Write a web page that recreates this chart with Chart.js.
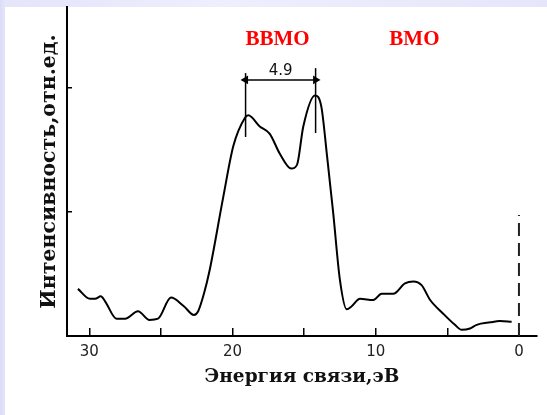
<!DOCTYPE html>
<html lang="ru">
<head>
<meta charset="UTF-8">
<title>Энергия связи</title>
<script src="https://cdn.jsdelivr.net/npm/chart.js"></script>
<style>
    body {
        margin: 0;
        width: 547px;
        height: 415px;
        overflow: hidden;
        background: linear-gradient(90deg, #dcdcf8 0px, #e4e4fb 5px, #eeeefd 40%, #e6e6fb 100%);
        position: relative;
    }
    #panel {
        position: absolute;
        left: 5px;
        top: 7px;
        right: 0;
        bottom: 0;
        background: #fff;
    }
    canvas {
        position: absolute;
        left: 0;
        top: 0;
    }
</style>
</head>
<body>
<div id="panel"></div>
<canvas id="grafico" width="547" height="415"></canvas>

<script>
    // спектр: энергия связи (эВ) и интенсивность (отн. ед.)
    const energy = [30.8, 29.96, 29.6, 29.2, 28.9, 28.1, 27.5, 26.6, 25.8, 25.2, 24.3, 23.4, 22.7, 22.4, 22.0, 21.6,
        20.65, 19.95, 19.13, 18.9, 18.1, 17.4, 16.7, 15.9, 15.5, 15.06, 14.25, 13.8, 13.4, 12.97, 12.5,
        12.03, 11.68, 11.1, 10.17, 9.59, 8.78, 7.96, 7.38, 6.8, 6.2, 5.29, 4.47, 4.0, 3.42, 2.95, 2.0, 1.33, 0.51];
    const intensity = [0.38, 0.30, 0.30, 0.32, 0.28, 0.14, 0.14, 0.20, 0.13, 0.14, 0.31, 0.24, 0.17, 0.20, 0.34, 0.53,
        1.12, 1.53, 1.76, 1.78, 1.69, 1.63, 1.47, 1.35, 1.38, 1.69, 1.94, 1.85, 1.45, 0.99, 0.45,
        0.215, 0.24, 0.30, 0.29, 0.34, 0.34, 0.425, 0.44, 0.41, 0.29, 0.18, 0.09, 0.05, 0.06, 0.09, 0.11, 0.12, 0.115];

    const xTickValues = [30, 25, 20, 15, 10, 5, 0];
    const xTickLabels = ['30', '', '20', '', '10', '', '0'];
    const yTickValues = [1, 2];

    // пунктир на уровне Ферми
    const fermiX = [0, 0];
    const fermiY = [0, 0.975];

    // расщепление 4.9 эВ
    const splitX = [19.09, 14.2];
    const splitLow = [1.605, 1.637];
    const splitHigh = [2.12, 2.16];
    const splitArrowY = 2.065;
    const splitText = '4.9';
    const splitTextY = 2.14;

    const bandNames = ['ВВМО', 'ВМО'];
    const bandX = [16.86, 7.3];
    const bandY = 2.39;

    const segment = (xs, ys) => xs.map((x, i) => ({ x: x, y: ys[i] }));

    const textPlugin = {
        id: 'textos',
        afterDatasetsDraw(chart) {
            const { ctx, scales: { x, y } } = chart;
            ctx.save();
            ctx.textAlign = 'center';
            ctx.textBaseline = 'middle';
            ctx.fillStyle = '#111';
            ctx.font = '15px "DejaVu Sans"';
            ctx.fillText(splitText, x.getPixelForValue((splitX[0] + splitX[1]) / 2), y.getPixelForValue(splitTextY));
            ctx.fillStyle = '#ff0000';
            ctx.font = 'bold 21px "Liberation Serif"';
            bandNames.forEach((name, i) => {
                ctx.fillText(name, x.getPixelForValue(bandX[i]), y.getPixelForValue(bandY));
            });
            ctx.restore();
        }
    };

    const ctx = document.getElementById('grafico').getContext('2d');
    const myChart = new Chart(ctx, {
        type: 'line',
        data: {
            datasets: [{
                data: segment(energy, intensity),
                borderColor: '#000',
                borderWidth: 2,
                pointRadius: 0,
                cubicInterpolationMode: 'monotone'
            }, {
                data: segment(fermiX, fermiY),
                borderColor: '#222',
                borderWidth: 2,
                borderDash: [13, 7],
                pointRadius: 0
            }, {
                data: segment([splitX[0], splitX[0]], [splitLow[0], splitHigh[0]]),
                borderColor: '#000',
                borderWidth: 1.5,
                pointRadius: 0
            }, {
                data: segment([splitX[1], splitX[1]], [splitLow[1], splitHigh[1]]),
                borderColor: '#000',
                borderWidth: 1.5,
                pointRadius: 0
            }, {
                data: segment(splitX, [splitArrowY, splitArrowY]),
                borderColor: '#000',
                backgroundColor: '#000',
                borderWidth: 1.5,
                pointStyle: 'triangle',
                pointRadius: 3.5,
                pointRotation: [-90, 90]
            }]
        },
        options: {
            responsive: false,
            animation: false,
            layout: {
                padding: { top: 7, right: 10, left: 0, bottom: 0 }
            },
            plugins: {
                legend: { display: false },
                tooltip: { enabled: false }
            },
            scales: {
                x: {
                    type: 'linear',
                    reverse: true,
                    min: -1.26,
                    max: 31.56,
                    afterFit: s => { s.height = 79; },
                    afterBuildTicks: s => { s.ticks = xTickValues.map(v => ({ value: v })); },
                    border: { color: '#000', width: 2 },
                    grid: { drawOnChartArea: false, color: '#000', lineWidth: 1.5, tickLength: -8 },
                    ticks: {
                        padding: 15,
                        color: '#222',
                        font: { family: 'DejaVu Sans', size: 15 },
                        maxRotation: 0,
                        callback: v => xTickLabels[xTickValues.indexOf(v)]
                    },
                    title: {
                        display: true,
                        text: 'Энергия связи,эВ',
                        color: '#111',
                        font: { family: 'DejaVu Serif', size: 18.5, weight: 'bold' },
                        padding: { top: 0, bottom: 27 }
                    }
                },
                y: {
                    min: 0,
                    max: 2.653,
                    afterFit: s => { s.width = 67; },
                    afterBuildTicks: s => { s.ticks = yTickValues.map(v => ({ value: v })); },
                    border: { color: '#000', width: 2 },
                    grid: { drawOnChartArea: false, color: '#000', lineWidth: 1.5, tickLength: -5 },
                    ticks: { display: false },
                    title: {
                        display: true,
                        text: 'Интенсивность,отн.ед.',
                        color: '#111',
                        font: { family: 'DejaVu Serif', size: 20.5, weight: 'bold' },
                        padding: { top: 37, bottom: 0 }
                    }
                }
            }
        },
        plugins: [textPlugin]
    });
</script>
</body>
</html>
